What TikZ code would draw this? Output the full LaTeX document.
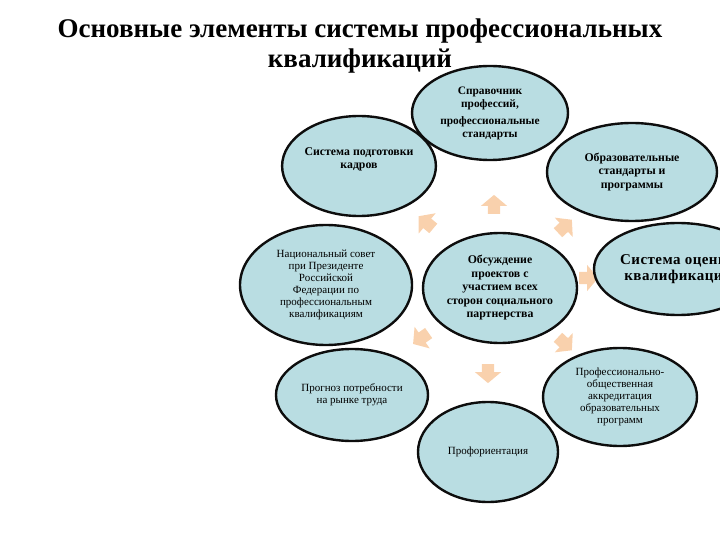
\documentclass[tikz,border=0pt]{standalone}
\usepackage{fontspec}
\setmainfont{Liberation Serif}
\usepackage{tikz}
\usepackage{xcolor}
\usetikzlibrary{shapes.geometric,shapes.arrows}
\definecolor{ink}{HTML}{0D0D0D}
\definecolor{bubblebg}{HTML}{B9DDE2}
\definecolor{peach}{HTML}{F6BE8A}
\tikzset{
  bubble/.style={ellipse,draw=ink,fill=bubblebg,line width=2.4pt,
                 inner sep=0pt,align=center,
                 font=\fontsize{11}{12}\selectfont},
  boldbubble/.style={bubble,font=\fontsize{11.8}{13.5}\selectfont\bfseries},
  outarrow/.style={single arrow,fill=peach,draw=none,opacity=0.7,
                   inner xsep=1pt,inner ysep=6pt,minimum height=19pt,
                   single arrow head extend=7pt,single arrow tip angle=100},
  headline/.style={align=center,font=\fontsize{27}{30}\selectfont\bfseries}
}

\begin{document}
\begin{tikzpicture}[x=1pt,y=-1pt]
  \useasboundingbox (0,0) rectangle (720,540);
  \clip (0,0) rectangle (720,540);
  % arrows round the centre
  \foreach \i/\px/\py/\ang in {1/494/207/90, 2/428/224/140, 3/563/228/43,
      4/405/276/180, 5/586/278/0, 6/423/337/215, 7/563/342/-43, 8/488/371/270}
    \node[outarrow,rotate=\ang] (ar\i) at (\px,\py) {};
  % bubbles
  \node[boldbubble,font=\fontsize{11.4}{13}\selectfont\bfseries,
        minimum width=156pt,minimum height=94pt] (sprav) at (490,113)
    {Справочник\\профессий,\\[4pt]профессиональные\\стандарты};
  \node[boldbubble,minimum width=152pt,minimum height=100pt] (podg) at (359,166)
    {Система подготовки\\кадров\\[2pt]};
  \node[boldbubble,minimum width=170pt,minimum height=98pt] (obrst) at (632,172)
    {Образовательные\\стандарты и\\программы};
  \node[bubble,minimum width=172pt,minimum height=120pt] (nacsov) at (326,285)
    {Национальный совет\\при Президенте\\Российской\\Федерации по\\профессиональным\\квалификациям};
  \node[boldbubble,minimum width=154pt,minimum height=110pt] (obsuzh) at (500,288)
    {Обсуждение\\проектов с\\участием всех\\сторон социального\\партнерства};
  \node[boldbubble,font=\fontsize{15}{16}\selectfont\bfseries\addfontfeature{LetterSpace=3},
        minimum width=168pt,minimum height=92pt] (ocenka) at (678,269)
    {Система оценки\\квалификаций};
  \node[bubble,minimum width=152pt,minimum height=92pt] (prognoz) at (352,395)
    {Прогноз потребности\\на рынке труда};
  \node[bubble,minimum width=154pt,minimum height=98pt] (akkred) at (620,397)
    {Профессионально-\\общественная\\аккредитация\\образовательных\\программ};
  \node[bubble,minimum width=140pt,minimum height=100pt] (proforient) at (488,452)
    {Профориентация};
  % title
  \node[headline] (title) at (360,46)
    {Основные элементы системы профессиональных\\квалификаций};
\end{tikzpicture}
\end{document}
